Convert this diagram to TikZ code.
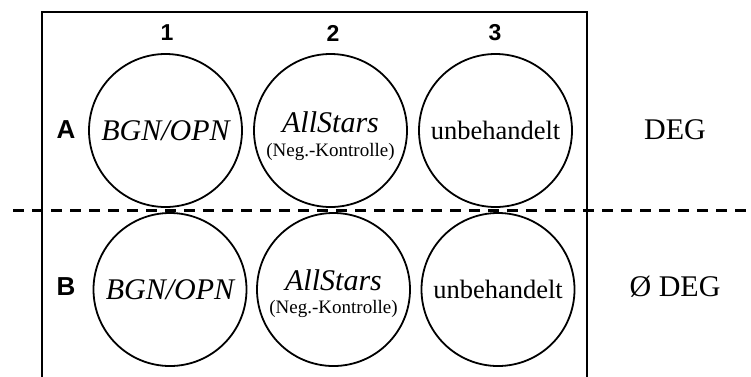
\documentclass[tikz,border=0pt]{standalone}
\usepackage{fontspec}
\setmainfont{Liberation Serif}
\setsansfont{Liberation Sans}
\begin{document}
\begin{tikzpicture}[x=1pt,y=-1pt,
  well/.style={circle,draw,line width=1.8pt,inner sep=0pt,minimum size=153pt},
  hdr/.style={font=\sffamily\bfseries\fontsize{23}{23}\selectfont,inner sep=0pt},
  rowhdr/.style={font=\sffamily\bfseries\fontsize{26}{26}\selectfont,inner sep=0pt},
  itl/.style={font=\itshape\fontsize{30}{30}\selectfont,inner sep=0pt},
  sml/.style={font=\fontsize{19}{19}\selectfont,inner sep=0pt},
  mid/.style={font=\fontsize{26.5}{26.5}\selectfont,inner sep=0pt},
  big/.style={font=\fontsize{30}{30}\selectfont,inner sep=0pt}]
\useasboundingbox (0,0) rectangle (751,376);
% plate frame (open at the bottom)
\coordinate (fbl) at (42,380);
\coordinate (ftl) at (42,12);
\coordinate (ftr) at (587,12);
\coordinate (fbr) at (587,380);
\draw[line width=1.8pt] (fbl) -- (ftl) -- (ftr) -- (fbr);
% separator
\coordinate (dl) at (13,210);
\coordinate (dr) at (751,210);
\draw[line width=3pt,dash pattern=on 11pt off 8pt] (dl) -- (dr);
% column and row headers
\node[hdr] (c1) at (167,33) {1};
\node[hdr] (c2) at (333,33) {2};
\node[hdr] (c3) at (495,33) {3};
\node[rowhdr] (rA) at (66,130) {A};
\node[rowhdr] (rB) at (66,287) {B};
% wells
\node[well] (A1) at (165.5,130.5) {};
\node[well] (A2) at (330.5,130.5) {};
\node[well] (A3) at (495.5,130.5) {};
\node[well] (B1) at (170,289.5) {};
\node[well] (B2) at (333.5,289.5) {};
\node[well] (B3) at (498,289.5) {};
% well texts
\node[itl] (tA1) at (A1.center) {BGN/OPN};
\node[itl] (tA2) at ([yshift=8pt]A2.center) {AllStars};
\node[sml] (nA2) at ([yshift=-21pt]A2.center) {(Neg.-Kontrolle)};
\node[mid] (tA3) at (A3.center) {unbehandelt};
\node[itl] (tB1) at (B1.center) {BGN/OPN};
\node[itl] (tB2) at ([yshift=9pt]B2.center) {AllStars};
\node[sml] (nB2) at ([yshift=-19pt]B2.center) {(Neg.-Kontrolle)};
\node[mid] (tB3) at (B3.center) {unbehandelt};
% right labels
\node[big] (deg) at (675,130) {DEG};
\node[big] (ndeg) at (675,287) {Ø DEG};
\end{tikzpicture}
\end{document}
